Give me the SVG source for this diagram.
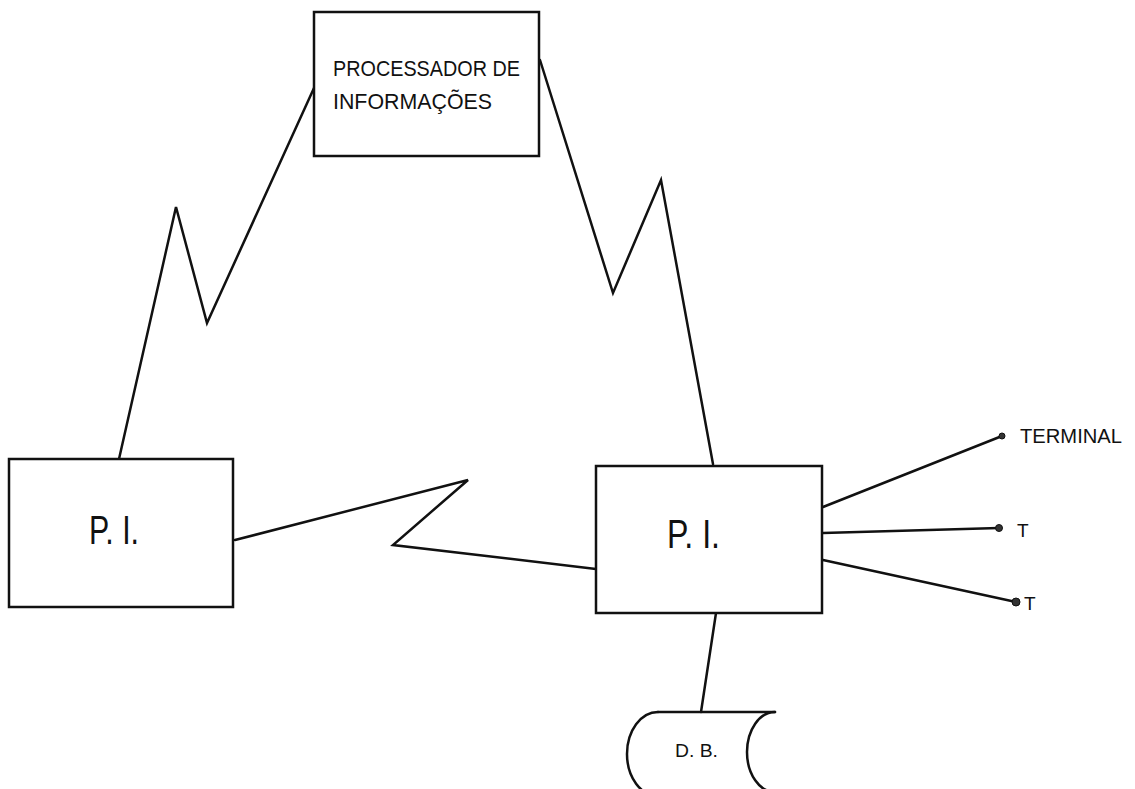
<svg xmlns="http://www.w3.org/2000/svg" width="1135" height="789" viewBox="0 0 1135 789">
  <style>
    .box { fill: #fff; stroke: #111; stroke-width: 2.5; }
    .link { fill: none; stroke: #111; stroke-width: 2.5; stroke-linejoin: miter; stroke-linecap: round; }
    .lbl { font-family: "Liberation Sans", Arial, sans-serif; fill: #111; }
    .dot { fill: #333; stroke: #111; stroke-width: 1; }
  </style>
  <rect width="1135" height="789" fill="#fff"/>

  <!-- connectors: lightning-style links, terminal lines, storage link -->
  <g id="connectors">
    <polyline class="link" points="119,459 176,207 207,323 314,88"/>
    <polyline class="link" points="540,60 613,293 661,180 713,464"/>
    <polyline class="link" points="235,540 468,480 393,545 596,569"/>
    <line class="link" x1="823" y1="507" x2="1002" y2="436"/>
    <line class="link" x1="823" y1="533" x2="999" y2="528"/>
    <line class="link" x1="823" y1="560" x2="1016" y2="602"/>
    <line class="link" x1="716" y1="613" x2="701" y2="712"/>
    <circle class="dot" cx="1002" cy="436" r="3"/>
    <circle class="dot" cx="999" cy="528" r="3.5"/>
    <circle class="dot" cx="1016" cy="602" r="4"/>
  </g>

  <!-- central information processor -->
  <g id="processador">
    <rect class="box" x="314" y="12" width="225" height="144"/>
    <text class="lbl" x="333" y="76" font-size="22" textLength="187" lengthAdjust="spacingAndGlyphs">PROCESSADOR  DE</text>
    <text class="lbl" x="333" y="109" font-size="22" textLength="159" lengthAdjust="spacingAndGlyphs">INFORMAÇÕES</text>
  </g>

  <!-- left interface processor -->
  <g id="pi-left">
    <rect class="box" x="9" y="459" width="224" height="148"/>
    <text class="lbl" x="89" y="544" font-size="40" textLength="50" lengthAdjust="spacingAndGlyphs">P. I.</text>
  </g>

  <!-- right interface processor -->
  <g id="pi-right">
    <rect class="box" x="596" y="466" width="226" height="147"/>
    <text class="lbl" x="667" y="548" font-size="40" textLength="53" lengthAdjust="spacingAndGlyphs">P. I.</text>
  </g>

  <!-- terminals -->
  <g id="terminal-1">
    <text class="lbl" x="1020" y="443" font-size="20" textLength="102" lengthAdjust="spacingAndGlyphs">TERMINAL</text>
  </g>
  <g id="terminal-2">
    <text class="lbl" x="1017" y="537" font-size="19">T</text>
  </g>
  <g id="terminal-3">
    <text class="lbl" x="1024" y="610" font-size="19">T</text>
  </g>

  <!-- database storage symbol -->
  <g id="database">
    <path class="link" d="M 658 712 L 775 712"/>
    <path class="link" d="M 658 712 A 31 42 0 0 0 658 796"/>
    <path class="link" d="M 775 712 A 28 40 0 0 0 775 792"/>
    <text class="lbl" x="675" y="757" font-size="19" textLength="43" lengthAdjust="spacingAndGlyphs">D. B.</text>
  </g>
</svg>
